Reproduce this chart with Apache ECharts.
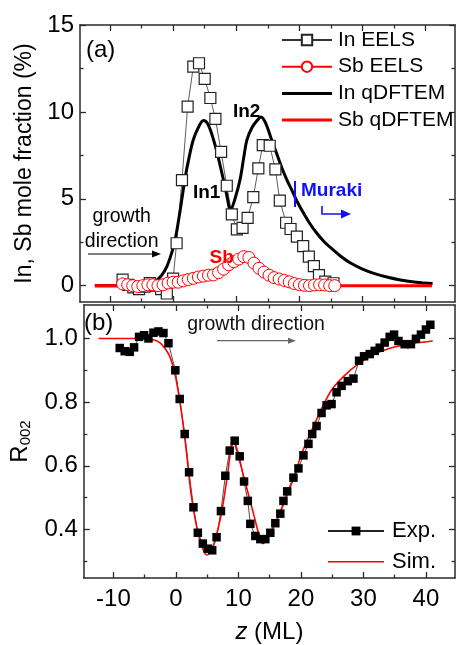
<!DOCTYPE html>
<html>
<head>
<meta charset="utf-8">
<script src="https://cdn.jsdelivr.net/npm/echarts@6/dist/echarts.min.js"></script>
<style>
html,body{margin:0;padding:0;background:#fff;}
#chart{width:456px;height:645px;}
</style>
</head>
<body>
<div id="chart"></div>
<script>
// ---------- DATA ----------
const xTickMajor = [-10, 0, 10, 20, 30, 40];
const xTickMinor = [-5, 5, 15, 25, 35];
const yTopMajor = [0, 5, 10, 15];
const yTopMinor = [2.5, 7.5, 12.5];
const yBotMajor = [0.4, 0.6, 0.8, 1.0];
const yBotMinor = [0.3, 0.5, 0.7, 0.9];

// (a) In EELS [z, %]
const inEELS = [
  [-8.0,0.35],[-7.1,0.05],[-6.3,-0.1],[-5.4,-0.2],[-4.5,-0.05],[-3.7,0.15],[-2.7,0.0],[-1.9,-0.2],
  [-1.0,-0.45],[0.0,0.4],[0.55,2.44],[1.4,6.07],[2.3,10.3],[3.2,12.6],[4.1,12.8],[5.0,11.9],
  [5.9,10.8],[6.7,9.6],[7.6,7.7],[8.5,5.75],[9.3,4.1],[10.1,3.24],[11.0,3.33],[11.8,3.9],
  [12.7,5.1],[13.5,6.75],[14.2,8.09],[15.3,8.05],[16.2,6.69],[16.9,4.89],[17.9,3.62],[18.6,3.26],
  [19.6,2.82],[20.6,2.28],[21.5,1.67],[22.3,1.13],[23.1,0.61],[24.1,0.23],[25.4,0.14]
];
// (a) Sb EELS [z, %]
const sbEELS = [
  [-8.0,0.1],[-7.2,0.05],[-6.4,0.0],[-5.6,-0.05],[-4.8,0.0],[-4.0,0.05],[-3.2,0.05],[-2.4,0.0],
  [-1.6,0.05],[-0.8,0.15],[0.0,0.2],[0.8,0.2],[1.6,0.28],[2.4,0.35],[3.2,0.42],[4.0,0.5],
  [4.8,0.55],[5.6,0.6],[6.4,0.62],[7.2,0.75],[8.0,0.95],[8.8,1.2],[9.6,1.38],[10.4,1.53],
  [11.2,1.67],[12.0,1.62],[12.8,1.3],[13.6,1.0],[14.4,0.78],[15.2,0.6],[16.0,0.46],[16.8,0.38],
  [17.6,0.3],[18.4,0.22],[19.2,0.12],[20.0,0.06],[20.8,0.02],[21.6,0.0],[22.4,0.04],[23.2,0.05],
  [24.0,0.04],[24.8,0.0],[25.6,0.0]
];
// (a) In qDFTEM [z, %]
const inQ = [
  [-12.4,0],[-5,0],[-3.5,0.05],[-2.6,0.3],[-1.8,0.6],[-1.0,1.1],[-0.3,1.8],[0.3,2.6],[1.1,4.3],
  [1.9,6.2],[2.6,7.5],[3.2,8.4],[4.0,9.1],[4.8,9.5],[5.5,9.3],[6.4,8.4],[7.2,7.3],[7.9,6.2],
  [8.5,5.2],[9.1,4.35],[9.8,5.0],[10.6,6.1],[11.2,7.4],[11.7,8.4],[12.5,9.1],[13.3,9.5],
  [13.9,9.7],[14.6,9.4],[15.6,8.4],[16.4,7.6],[17.2,6.8],[18.0,6.1],[18.8,5.5],[19.7,4.8],
  [20.7,4.15],[21.7,3.55],[22.8,3.0],[24.0,2.5],[25.4,2.05],[26.7,1.65],[28.1,1.3],[30.0,0.95],
  [31.8,0.71],[34.0,0.48],[36.0,0.33],[38.5,0.2],[41.1,0.12]
];
// (a) Sb qDFTEM [z, %]
const sbQ = [
  [-12.4,0],[0,0],[1,0.05],[2,0.15],[3,0.28],[4,0.35],[5,0.4],[6,0.45],[7,0.55],[8,0.72],
  [9,0.95],[10,1.25],[11,1.6],[11.8,1.9],[12.6,1.5],[13.5,1.05],[14.5,0.72],[15.5,0.48],
  [16.5,0.32],[17.5,0.22],[18.5,0.12],[19.5,0.05],[20.5,0.01],[22,0],[41,0]
];
// (b) R002 experiment [z, R]
const expR = [
  [-9.0,0.970],[-8.2,0.960],[-7.4,0.958],[-6.7,0.972],[-5.9,1.005],[-5.1,1.010],[-4.4,1.000],
  [-3.6,1.018],[-2.8,1.022],[-2.0,1.017],[-1.2,0.985],[-0.1,0.90],[0.6,0.81],[1.4,0.70],
  [2.1,0.58],[2.8,0.47],[3.5,0.39],[4.3,0.356],[5.1,0.34],[5.8,0.335],[6.5,0.376],[7.2,0.458],
  [7.9,0.569],[8.6,0.648],[9.4,0.679],[10.2,0.63],[10.9,0.551],[11.5,0.49],[11.9,0.418],
  [12.7,0.38],[13.5,0.37],[14.3,0.37],[15.1,0.39],[15.9,0.42],[16.7,0.45],[17.2,0.49],
  [17.8,0.52],[18.8,0.563],[19.6,0.592],[20.4,0.633],[21.2,0.669],[21.8,0.70],[22.5,0.725],
  [23.3,0.766],[24.1,0.79],[24.9,0.794],[25.7,0.831],[26.5,0.851],[27.5,0.866],[28.4,0.874],
  [29.3,0.93],[30.1,0.944],[31.0,0.951],[31.8,0.961],[32.6,0.971],[33.4,0.987],[34.2,1.005],
  [34.9,1.012],[35.6,0.992],[36.6,0.982],[37.6,0.982],[38.4,0.999],[39.2,1.012],[40.0,1.028],
  [40.7,1.043]
];
// (b) R002 simulation [z, R]
const simR = [
  [-12.4,1.0],[-5,1.0],[-3.5,0.995],[-2.6,0.987],[-1.8,0.97],[-1.05,0.946],[-0.5,0.915],[0,0.874],
  [0.8,0.78],[1.6,0.658],[2.4,0.515],[3.2,0.42],[4.0,0.356],[4.9,0.32],[5.5,0.33],[6.1,0.356],
  [6.7,0.4],[7.2,0.443],[7.7,0.5],[8.2,0.566],[8.7,0.64],[9.1,0.69],[9.7,0.65],[10.3,0.607],
  [11.4,0.525],[12.5,0.443],[13.2,0.39],[13.9,0.356],[14.8,0.38],[15.9,0.42],[17.5,0.494],
  [19.1,0.576],[20.1,0.638],[21.7,0.71],[23.1,0.771],[24.9,0.838],[27.0,0.884],[29.2,0.92],
  [31.8,0.951],[34.5,0.971],[37.1,0.982],[41.1,0.992]
];

// ---------- CHART ----------
const FONT = 'Liberation Sans, Arial, Helvetica, sans-serif';
const AX = '#2a2a2a';
const X_MIN = -14.75, X_MAX = 44.65;
const TOP_MIN = -0.94, TOP_MAX = 15;
const BOT_MIN = 0.248, BOT_MAX = 1.105;

function xAx(grid, pos, ticks, len, line, labels) {
  return {
    type: 'value', gridIndex: grid, position: pos, min: X_MIN, max: X_MAX,
    axisLine: { show: line, onZero: false, lineStyle: { color: AX, width: 1.5 } },
    axisTick: { show: true, inside: true, length: len, customValues: ticks, lineStyle: { color: AX, width: 1.3 } },
    axisLabel: labels ? { show: true, customValues: ticks, color: '#000', fontSize: 24, fontFamily: FONT, margin: 9,
      formatter: v => String(v) } : { show: false },
    splitLine: { show: false }
  };
}
function yAx(grid, pos, min, max, ticks, len, line, labels, fmt) {
  return {
    type: 'value', gridIndex: grid, position: pos, min: min, max: max,
    axisLine: { show: line, onZero: false, lineStyle: { color: AX, width: 1.5 } },
    axisTick: { show: true, inside: true, length: len, customValues: ticks, lineStyle: { color: AX, width: 1.3 } },
    axisLabel: labels ? { show: true, customValues: ticks, color: '#000', fontSize: 24, fontFamily: FONT, margin: 6,
      formatter: fmt } : { show: false },
    splitLine: { show: false }
  };
}

const chart = echarts.init(document.getElementById('chart'), null, { renderer: 'canvas' });

const option = {
  animation: false,
  backgroundColor: '#fff',
  grid: [
    { left: 80, top: 25, width: 375, height: 277 },
    { left: 80, top: 305, width: 375, height: 278 }
  ],
  xAxis: [
    xAx(0, 'bottom', xTickMajor, 6, true, false),
    xAx(0, 'bottom', xTickMinor, 3.5, false, false),
    xAx(0, 'top', xTickMajor, 6, true, false),
    xAx(0, 'top', xTickMinor, 3.5, false, false),
    Object.assign(xAx(1, 'bottom', xTickMajor, 6, true, true), {
      name: '{i|z} (ML)', nameLocation: 'middle', nameGap: 42,
      nameTextStyle: { fontSize: 24, fontFamily: FONT, color: '#000',
        rich: { i: { fontStyle: 'italic', fontSize: 24, fontFamily: FONT, color: '#000' } } }
    }),
    xAx(1, 'bottom', xTickMinor, 3.5, false, false),
    xAx(1, 'top', xTickMajor, 6, true, false),
    xAx(1, 'top', xTickMinor, 3.5, false, false)
  ],
  yAxis: [
    Object.assign(yAx(0, 'left', TOP_MIN, TOP_MAX, yTopMajor, 6, true, true, v => String(v)), {
      name: 'In, Sb mole fraction (%)', nameLocation: 'middle', nameGap: 35,
      nameTextStyle: { fontSize: 23, fontFamily: FONT, color: '#000' }
    }),
    yAx(0, 'left', TOP_MIN, TOP_MAX, yTopMinor, 3.5, false, false),
    yAx(0, 'right', TOP_MIN, TOP_MAX, yTopMajor, 6, true, false),
    yAx(0, 'right', TOP_MIN, TOP_MAX, yTopMinor, 3.5, false, false),
    Object.assign(yAx(1, 'left', BOT_MIN, BOT_MAX, yBotMajor, 6, true, true, v => v.toFixed(1)), {
      name: '{r|R}{s|002}', nameLocation: 'middle', nameGap: 40,
      nameTextStyle: { fontSize: 24, fontFamily: FONT, color: '#000',
        rich: { r: { fontSize: 24, fontFamily: FONT, color: '#000' },
                s: { fontSize: 15, fontFamily: FONT, color: '#000', verticalAlign: 'bottom', padding: [12, 0, 0, 0] } } }
    }),
    yAx(1, 'left', BOT_MIN, BOT_MAX, yBotMinor, 3.5, false, false),
    yAx(1, 'right', BOT_MIN, BOT_MAX, yBotMajor, 6, true, false),
    yAx(1, 'right', BOT_MIN, BOT_MAX, yBotMinor, 3.5, false, false)
  ],
  legend: [
    {
      orient: 'vertical', left: 281, top: 29.5, padding: 0, itemWidth: 50, itemHeight: 13, itemGap: 5.7,
      symbolKeepAspect: true,
      data: [
        { name: 'In EELS' },
        { name: 'Sb EELS' },
        { name: 'In qDFTEM', icon: 'path://M0,0H50V3H0Z' },
        { name: 'Sb qDFTEM', icon: 'path://M0,0H50V3H0Z' }
      ],
      textStyle: { fontSize: 21, fontFamily: FONT, color: '#000', lineHeight: 21, padding: [0,0,0,1] }
    },
    {
      orient: 'vertical', left: 327, top: 520, padding: 0, itemWidth: 56, itemHeight: 11, itemGap: 8.7,
      symbolKeepAspect: true,
      data: [
        { name: 'Exp.' },
        { name: 'Sim.', icon: 'path://M0,0H56V1.6H0Z' }
      ],
      textStyle: { fontSize: 22, fontFamily: FONT, color: '#000', lineHeight: 22, padding: [0,0,0,3] }
    }
  ],
  series: [
    {
      name: 'In EELS', type: 'line', xAxisIndex: 0, yAxisIndex: 0, data: inEELS,
      symbol: 'rect', symbolSize: 11, showAllSymbol: true,
      itemStyle: { color: '#fff', borderColor: '#222', borderWidth: 1.2 },
      lineStyle: { color: '#333', width: 0.8 }
    },
    {
      name: 'Sb EELS', type: 'line', xAxisIndex: 0, yAxisIndex: 0, data: sbEELS,
      symbol: 'circle', symbolSize: 12, showAllSymbol: true,
      itemStyle: { color: '#fff', borderColor: '#ff0000', borderWidth: 1 },
      lineStyle: { color: '#ff0000', width: 0.8 }
    },
    {
      name: 'In qDFTEM', type: 'line', xAxisIndex: 0, yAxisIndex: 0, data: inQ,
      symbol: 'none', smooth: 0.35, itemStyle: { color: '#000' },
      lineStyle: { color: '#000', width: 3 }
    },
    {
      name: 'Sb qDFTEM', type: 'line', xAxisIndex: 0, yAxisIndex: 0, data: sbQ,
      symbol: 'none', smooth: 0.2, itemStyle: { color: '#ff0000' },
      lineStyle: { color: '#ff0000', width: 3 }
    },
    {
      name: 'Exp.', type: 'line', xAxisIndex: 4, yAxisIndex: 4, data: expR,
      symbol: 'rect', symbolSize: 8.5, showAllSymbol: true,
      itemStyle: { color: '#000' },
      lineStyle: { color: '#222', width: 0.8 }
    },
    {
      name: 'Sim.', type: 'line', xAxisIndex: 4, yAxisIndex: 4, data: simR,
      symbol: 'none', smooth: 0.3, itemStyle: { color: '#ff0000' },
      lineStyle: { color: '#ff0000', width: 1.6 }
    }
  ],
  graphic: [
    { type: 'text', z: 100, left: 86, top: 38, style: { text: '(a)', fontSize: 24, fontFamily: FONT, fill: '#000' } },
    { type: 'text', z: 100, left: 84, top: 311, style: { text: '(b)', fontSize: 24, fontFamily: FONT, fill: '#000' } },
    { type: 'text', z: 100, x: 206.7, y: 193, style: { text: 'In1', fontSize: 19, fontWeight: 'bold', fontFamily: FONT, fill: '#000', align: 'center', verticalAlign: 'middle' } },
    { type: 'text', z: 100, x: 246.7, y: 111.7, style: { text: 'In2', fontSize: 19, fontWeight: 'bold', fontFamily: FONT, fill: '#000', align: 'center', verticalAlign: 'middle' } },
    { type: 'text', z: 100, x: 221.7, y: 258, style: { text: 'Sb', fontSize: 19, fontWeight: 'bold', fontFamily: FONT, fill: '#ff0000', align: 'center', verticalAlign: 'middle' } },
    { type: 'text', z: 100, x: 121.7, y: 217, style: { text: 'growth', fontSize: 19.5, fontFamily: FONT, fill: '#000', align: 'center', verticalAlign: 'middle' } },
    { type: 'text', z: 100, x: 121.7, y: 242, style: { text: 'direction', fontSize: 19.5, fontFamily: FONT, fill: '#000', align: 'center', verticalAlign: 'middle' } },
    { type: 'line', z: 100, shape: { x1: 88, y1: 254, x2: 154, y2: 254 }, style: { stroke: '#000', lineWidth: 1.2 } },
    { type: 'polygon', z: 100, shape: { points: [[161, 254], [152, 250.5], [152, 257.5]] }, style: { fill: '#000' } },
    { type: 'text', z: 100, x: 301, y: 191, style: { text: 'Muraki', fontSize: 19, fontWeight: 'bold', fontFamily: FONT, fill: '#1010ff', align: 'left', verticalAlign: 'middle' } },
    { type: 'line', z: 100, shape: { x1: 295, y1: 181, x2: 295, y2: 207 }, style: { stroke: '#1010ff', lineWidth: 2 } },
    { type: 'polyline', z: 100, shape: { points: [[322, 206], [322, 214], [343, 214]] }, style: { stroke: '#1010ff', lineWidth: 1.6, fill: null } },
    { type: 'polygon', z: 100, shape: { points: [[351, 214], [341, 209.5], [341, 218.5]] }, style: { fill: '#1010ff' } },
    { type: 'text', z: 100, x: 256, y: 325, style: { text: 'growth direction', fontSize: 19.5, fontFamily: FONT, fill: '#111', align: 'center', verticalAlign: 'middle' } },
    { type: 'line', z: 100, shape: { x1: 217, y1: 340.7, x2: 290, y2: 340.7 }, style: { stroke: '#666', lineWidth: 1.2 } },
    { type: 'polygon', z: 100, shape: { points: [[296, 340.7], [288, 337.7], [288, 343.7]] }, style: { fill: '#666' } }
  ]
};
chart.setOption(option);
</script>
</body>
</html>
